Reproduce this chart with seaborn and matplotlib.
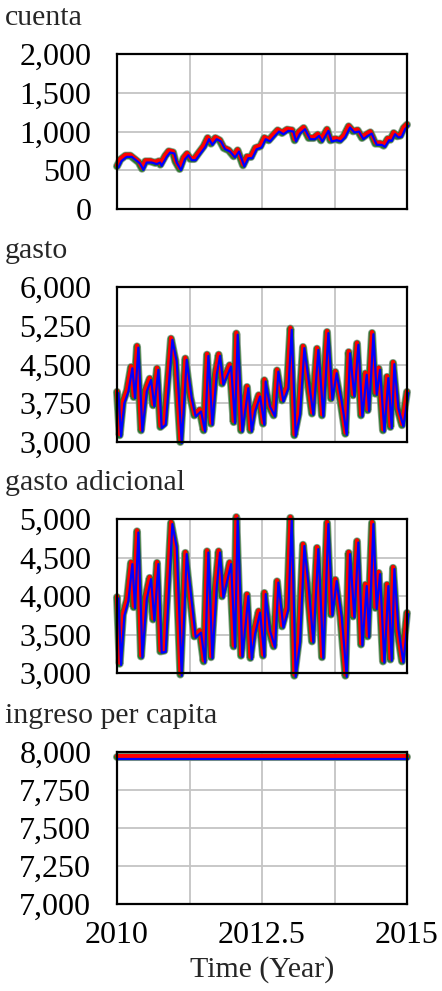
import matplotlib
matplotlib.use("Agg")
import matplotlib.pyplot as plt
from matplotlib.transforms import ScaledTranslation
import numpy as np
import pandas as pd
import seaborn as sns

# ---- data -------------------------------------------------------------
t_cuenta = [2010.000, 2010.057, 2010.144, 2010.230, 2010.316, 2010.374, 2010.431, 2010.489,
            2010.575, 2010.661, 2010.718, 2010.747, 2010.833, 2010.891, 2010.966, 2011.006,
            2011.080, 2011.149, 2011.207, 2011.264, 2011.333, 2011.408, 2011.494, 2011.563,
            2011.621, 2011.695, 2011.770, 2011.839, 2011.925, 2012.011, 2012.080, 2012.172,
            2012.241, 2012.310, 2012.385, 2012.471, 2012.540, 2012.615, 2012.701, 2012.770,
            2012.845, 2012.931, 2013.017, 2013.063, 2013.132, 2013.218, 2013.305, 2013.391,
            2013.460, 2013.517, 2013.621, 2013.678, 2013.764, 2013.839, 2013.908, 2013.994,
            2014.069, 2014.149, 2014.224, 2014.299, 2014.368, 2014.454, 2014.540, 2014.598,
            2014.667, 2014.713, 2014.770, 2014.828, 2014.885, 2014.943, 2015.000]
cuenta = [551, 637, 688, 688, 637, 602, 520, 615, 615, 594, 615, 572, 688, 744, 731, 615,
          516, 658, 710, 645, 645, 723, 809, 916, 843, 916, 886, 787, 757, 680, 757, 563,
          671, 671, 787, 809, 916, 886, 959, 1015, 980, 1024, 1015, 886, 989, 1045, 916, 916,
          959, 886, 1024, 886, 903, 886, 938, 1067, 1002, 1015, 916, 959, 989, 843, 843, 817,
          903, 894, 980, 938, 946, 1045, 1088]

t_gasto = [2010.000, 2010.046, 2010.103, 2010.172, 2010.241, 2010.287, 2010.345, 2010.414,
           2010.489, 2010.563, 2010.621, 2010.690, 2010.747, 2010.816, 2010.931, 2011.006,
           2011.092, 2011.178, 2011.264, 2011.333, 2011.425, 2011.494, 2011.552, 2011.621,
           2011.695, 2011.753, 2011.810, 2011.943, 2012.011, 2012.057, 2012.138, 2012.241,
           2012.299, 2012.356, 2012.443, 2012.517, 2012.540, 2012.615, 2012.701, 2012.759,
           2012.845, 2012.931, 2012.989, 2013.057, 2013.132, 2013.207, 2013.276, 2013.362,
           2013.448, 2013.534, 2013.621, 2013.690, 2013.764, 2013.851, 2013.937, 2013.994,
           2014.069, 2014.138, 2014.207, 2014.282, 2014.322, 2014.397, 2014.454, 2014.511,
           2014.586, 2014.655, 2014.713, 2014.759, 2014.828, 2014.914, 2015.000]
gasto = [3970, 3130, 3775, 4000, 4450, 3870, 4850, 3225, 4000, 4225, 3710, 4420, 3290, 3355,
         5000, 4580, 3000, 4615, 3870, 3515, 3615, 3225, 4690, 3355, 4325, 4690, 4130, 4485,
         3385, 5100, 3225, 4065, 3225, 3615, 3905, 3355, 4195, 3710, 3515, 4385, 3805, 4065,
         5195, 3130, 3550, 4840, 4260, 3550, 4805, 3515, 5130, 3840, 4355, 3805, 3160, 4740,
         3905, 4905, 3515, 4325, 3615, 5110, 3935, 4420, 3225, 4260, 3290, 4530, 3675, 3325,
         3970]
gasto_adicional = [3985, 3120, 3760, 3950, 4430, 3855, 4840, 3215, 3975, 4235, 3695, 4430,
                   3280, 3290, 4950, 4645, 2980, 4560, 3950, 3475, 3540, 3150, 4580, 3205,
                   4125, 4580, 3995, 4430, 3345, 5025, 3225, 4015, 3195, 3520, 3800, 3225,
                   4040, 3565, 3345, 4190, 3605, 3845, 5015, 2965, 3410, 4665, 4170, 3410,
                   4625, 3205, 4950, 3760, 4210, 3735, 2965, 4560, 3735, 4710, 3370, 4145,
                   3475, 4950, 3845, 4300, 3150, 4145, 3175, 4365, 3585, 3150, 3780]

t_ingreso = [2010.0, 2015.0]
ingreso = [7965, 7965]

titles = ["cuenta", "gasto", "gasto adicional", "ingreso per capita"]
yticks = [[0, 500, 1000, 1500, 2000],
          [3000, 3750, 4500, 5250, 6000],
          [3000, 3500, 4000, 4500, 5000],
          [7000, 7250, 7500, 7750, 8000]]
xticks = [2010, 2011.25, 2012.5, 2013.75, 2015]
xticklabels = ["2010", "", "2012.5", "", "2015"]
xlabel = "Time (Year)"

series = [(t_cuenta, cuenta), (t_gasto, gasto), (t_gasto, gasto_adicional),
          (t_ingreso, ingreso)]

# ---- style ------------------------------------------------------------
sns.set_theme(style="white")
plt.rcParams["font.family"] = ["Liberation Serif", "DejaVu Serif"]
FS_TICK = 23
FS_TEXT = 21.5

W, H = 442, 991
fig = plt.figure(figsize=(W / 100, H / 100), dpi=100)

# panel boxes in pixels: (top, bottom)
boxes = [(54, 209), (287, 442), (519, 673), (752, 904)]
left_px, right_px = 117, 407

# three overlaid runs: green (with soft halo), red, blue, each slightly offset
layers = [("#7f957f", 5.8, (0, 0), 0.85),
          ("#2c7a2c", 4.6, (0, 0), 1.0),
          ("#ff0000", 2.9, (0, 1.0), 1.0),
          ("#0000ff", 1.6, (1.4, -1.2), 1.0)]

for i, ((t, y), (top, bot)) in enumerate(zip(series, boxes)):
    ax = fig.add_axes([left_px / W, 1 - bot / H, (right_px - left_px) / W, (bot - top) / H])
    df = pd.DataFrame({"t": t, "v": y})

    for color, lw, (dx, dy), alpha in layers:
        sns.lineplot(data=df, x="t", y="v", ax=ax, color=color, linewidth=lw,
                     alpha=alpha, clip_on=False, solid_joinstyle="round",
                     solid_capstyle="round")
        line = ax.lines[-1]
        line.set_transform(ax.transData + ScaledTranslation(dx / 100, dy / 100,
                                                            fig.dpi_scale_trans))

    ax.set_xlim(2010, 2015)
    ax.set_ylim(yticks[i][0], yticks[i][-1])
    ax.set_yticks(yticks[i])
    ax.set_yticklabels([f"{v:,}" for v in yticks[i]], fontsize=FS_TICK)
    ax.set_xticks(xticks)
    if i == len(series) - 1:
        ax.set_xticklabels(xticklabels, fontsize=FS_TICK)
    else:
        ax.set_xticklabels([])
    ax.tick_params(axis="both", length=0, colors="black")
    ax.tick_params(axis="y", pad=18.5)
    ax.tick_params(axis="x", pad=12)
    ax.grid(True, color="#c4c4c4", linewidth=1.3)
    ax.set_axisbelow(True)
    for s in ax.spines.values():
        s.set_color("black")
        s.set_linewidth(1.6)
        s.set_zorder(5)
    ax.set_xlabel("")
    ax.set_ylabel("")
    ax.set_facecolor("white")

    fig.text(5 / W, 1 - (top - 29) / H, titles[i], fontsize=FS_TEXT,
             ha="left", va="baseline")

fig.text(262 / W, 1 - 977 / H, xlabel, fontsize=FS_TEXT, ha="center", va="baseline")

fig.savefig("out.png", dpi=100, facecolor="white")
